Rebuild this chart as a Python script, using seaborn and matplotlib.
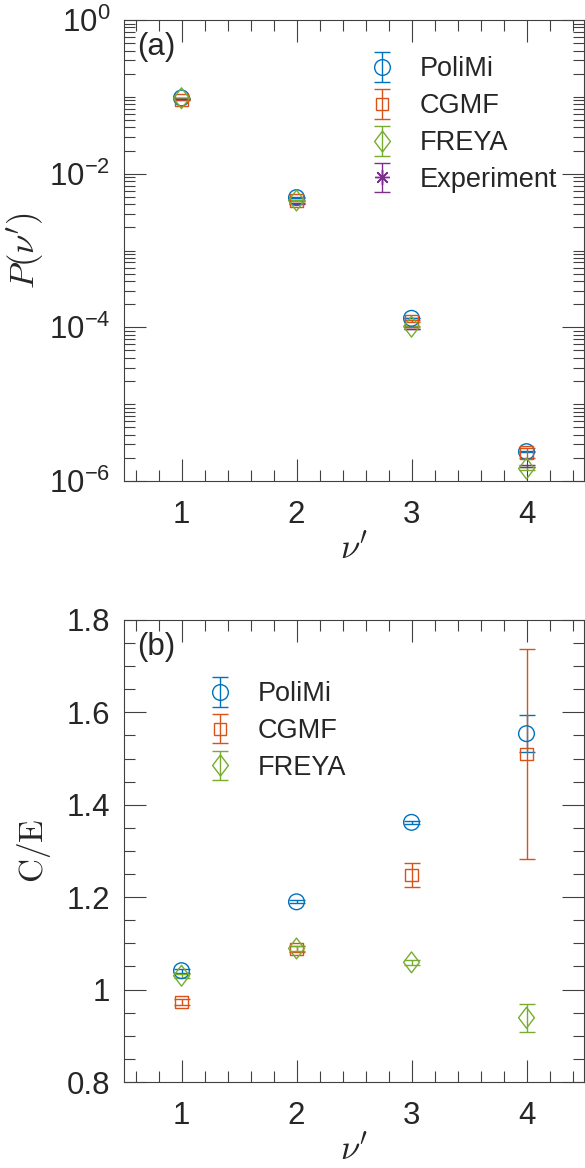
import numpy as np
import pandas as pd
import matplotlib
matplotlib.use("Agg")
import matplotlib.pyplot as plt
import seaborn as sns
from matplotlib.path import Path
from matplotlib.lines import Line2D
from matplotlib.ticker import (FixedLocator, FixedFormatter, LogLocator,
                               MultipleLocator, NullFormatter, FuncFormatter)
from matplotlib.container import ErrorbarContainer
from matplotlib.legend_handler import HandlerErrorbar, HandlerTuple

# ---------------- data ----------------
nu = [1, 2, 3, 4]

# (a) multiplicity probabilities P(nu')
p_polimi = [0.0967, 0.00488, 1.31e-4, 2.41e-6]
p_cgmf = [0.0907, 0.00446, 1.20e-4, 2.34e-6]
p_freya = [0.0958, 0.00447, 1.02e-4, 1.45e-6]
p_exp = [0.0930, 0.00410, 9.60e-5, 1.55e-6]

p_polimi_err = [0.0004, 0.00002, 0.6e-6, 0.05e-6]
p_cgmf_err = [0.0006, 0.00003, 3.0e-6, 0.35e-6]
p_freya_err = [0.0004, 0.00002, 0.6e-6, 0.05e-6]
p_exp_err = [0.0004, 0.00002, 0.5e-6, 0.05e-6]

# (b) calculated / experimental ratios
ce_polimi = [1.041, 1.190, 1.362, 1.554]
ce_cgmf = [0.973, 1.088, 1.248, 1.510]
ce_freya = [1.030, 1.089, 1.059, 0.939]

ce_polimi_err = [0.004, 0.003, 0.004, 0.040]
ce_cgmf_err = [0.006, 0.007, 0.026, 0.227]
ce_freya_err = [0.004, 0.005, 0.006, 0.030]

labels_a = ["PoliMi", "CGMF", "FREYA", "Experiment"]
labels_b = ["PoliMi", "CGMF", "FREYA"]
y_major_a = [1e-6, 1e-4, 1e-2, 1e0]
y_major_a_labels = [r"$\mathregular{10^{-6}}$", r"$\mathregular{10^{-4}}$",
                    r"$\mathregular{10^{-2}}$", r"$\mathregular{10^{0}}$"]

# ---------------- style ----------------
colors = {"PoliMi": "#0072BD", "CGMF": "#D95319",
          "FREYA": "#77AC30", "Experiment": "#7E2F8E"}
diamond = Path([(0, 1), (0.76, 0), (0, -1), (-0.76, 0), (0, 1)],
               [Path.MOVETO, Path.LINETO, Path.LINETO, Path.LINETO, Path.CLOSEPOLY])
markers = {"PoliMi": "o", "CGMF": "s", "FREYA": diamond, "Experiment": (8, 2, 0)}
msize = {"PoliMi": 11.3, "CGMF": 8.9, "FREYA": 15.0, "Experiment": 10.6}

sns.set_theme(style="ticks")
plt.rcParams["font.family"] = ["Liberation Sans", "DejaVu Sans"]
plt.rcParams["axes.edgecolor"] = "#404040"
plt.rcParams["axes.linewidth"] = 0.8

fig = plt.figure(figsize=(5.85, 11.68), dpi=100)
W, H = 585.0, 1168.0
ax_a = fig.add_axes([124 / W, 1 - 481 / H, 460 / W, 461 / H])
ax_b = fig.add_axes([124 / W, 1 - 1082 / H, 460 / W, 462 / H])

TXT = "#262626"
FS = 22.5     # tick labels and panel tags
LFS = 19.5    # legend entries
CAP = 5.8


def draw_series(ax, name, yvals, yerr):
    eb = ax.errorbar(nu, yvals, yerr=yerr, fmt="none", ecolor=colors[name],
                     elinewidth=1.0, capsize=CAP, capthick=1.0, zorder=2)
    df = pd.DataFrame({"nu": nu, "val": yvals})
    sns.scatterplot(data=df, x="nu", y="val", ax=ax, marker=markers[name],
                    s=msize[name] ** 2, facecolors="none",
                    edgecolor=colors[name], linewidth=1.0, zorder=3,
                    legend=False)
    # legend key: the series' error bar with its open marker on top
    key = Line2D([], [], marker=markers[name], linestyle="none",
                 markersize=msize[name], markerfacecolor="none",
                 markeredgecolor=colors[name], markeredgewidth=1.0)
    return (eb, key)


def style_axes(ax):
    ax.set_xlim(0.5, 4.5)
    ax.xaxis.set_major_locator(MultipleLocator(1))
    ax.xaxis.set_minor_locator(MultipleLocator(0.2))
    ax.tick_params(which="both", direction="in", top=True, right=True,
                   color="#404040", width=0.8, labelcolor=TXT, labelsize=FS)
    ax.tick_params(which="major", length=16)
    ax.tick_params(which="minor", length=8)
    ax.tick_params(axis="x", pad=14)
    ax.tick_params(axis="y", pad=10)
    for s in ax.spines.values():
        s.set_visible(True)
        s.set_color("#404040")
        s.set_linewidth(0.8)


legend_kw = dict(loc="upper left", frameon=False, fontsize=LFS,
                 handlelength=1.5, handletextpad=0.65, labelspacing=0.4,
                 borderpad=0, borderaxespad=0, labelcolor=TXT,
                 handler_map={ErrorbarContainer: HandlerErrorbar(xerr_size=0.55),
                              tuple: HandlerTuple(ndivide=1)})

# ---------------- panel (a) ----------------
handles_a = []
for name, vals, err in [("PoliMi", p_polimi, p_polimi_err),
                        ("CGMF", p_cgmf, p_cgmf_err),
                        ("FREYA", p_freya, p_freya_err),
                        ("Experiment", p_exp, p_exp_err)]:
    handles_a.append(draw_series(ax_a, name, vals, err))

ax_a.set_yscale("log")
ax_a.set_ylim(1e-6, 1)
style_axes(ax_a)
ax_a.yaxis.set_major_locator(FixedLocator(y_major_a))
ax_a.yaxis.set_major_formatter(FixedFormatter(y_major_a_labels))
ax_a.yaxis.set_minor_locator(LogLocator(base=10, subs=np.arange(1, 10), numticks=100))
ax_a.yaxis.set_minor_formatter(NullFormatter())
ax_a.set_xlabel(r"$\nu^{\prime}$", fontsize=25, color=TXT, labelpad=1,
                math_fontfamily="cm")
ax_a.set_ylabel(r"$P(\nu^{\prime})$", fontsize=25, color=TXT, labelpad=2,
                math_fontfamily="cm")
ax_a.text(0.028, 0.975, "(a)", transform=ax_a.transAxes, ha="left", va="top",
          fontsize=FS, color=TXT)
ax_a.legend(handles_a, labels_a, bbox_to_anchor=(0.517, 0.921), **legend_kw)

# ---------------- panel (b) ----------------
handles_b = []
for name, vals, err in [("PoliMi", ce_polimi, ce_polimi_err),
                        ("CGMF", ce_cgmf, ce_cgmf_err),
                        ("FREYA", ce_freya, ce_freya_err)]:
    handles_b.append(draw_series(ax_b, name, vals, err))

ax_b.set_ylim(0.8, 1.8)
style_axes(ax_b)
ax_b.yaxis.set_major_locator(MultipleLocator(0.2))
ax_b.yaxis.set_minor_locator(MultipleLocator(0.05))
ax_b.yaxis.set_major_formatter(FuncFormatter(lambda v, p: f"{v:g}"))
ax_b.set_xlabel(r"$\nu^{\prime}$", fontsize=25, color=TXT, labelpad=1,
                math_fontfamily="cm")
ax_b.set_ylabel(r"$\mathrm{C/E}$", fontsize=24, color=TXT, labelpad=10,
                math_fontfamily="cm")
ax_b.text(0.028, 0.975, "(b)", transform=ax_b.transAxes, ha="left", va="top",
          fontsize=FS, color=TXT)
ax_b.legend(handles_b, labels_b, bbox_to_anchor=(0.1645, 0.8675), **legend_kw)

fig.savefig("out.png", dpi=100)
